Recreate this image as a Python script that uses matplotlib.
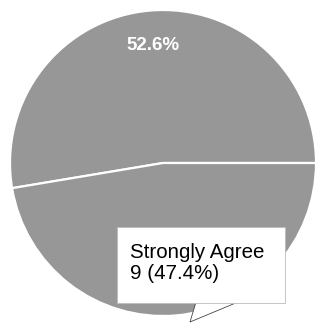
import matplotlib.pyplot as plt
from matplotlib.patches import Rectangle, Polygon

plt.rcParams['font.family'] = ['Liberation Sans', 'DejaVu Sans']

# survey responses
categories = ['Agree', 'Strongly Agree']
counts = [10, 9]

total = sum(counts)
tip_index = 1
tip_label = f"{categories[tip_index]}\n{counts[tip_index]} ({counts[tip_index] / total * 100:.1f}%)"

W, H = 321, 325
fig = plt.figure(figsize=(W / 100, H / 100), dpi=100)
ax = fig.add_axes([0, 0, 1, 1])

grey = '#979797'


def show_pct(pct):
    # only the bigger slice shows its label, the other one sits under the tooltip
    return f"{pct:.1f}%" if pct > 50 else ''


wedges, texts, autotexts = ax.pie(
    counts,
    colors=[grey, grey],
    startangle=0,
    counterclock=True,
    center=(163, H - 163),
    radius=153,
    autopct=show_pct,
    pctdistance=0.77,
    wedgeprops=dict(edgecolor='white', linewidth=1.6),
)
for t in autotexts:
    t.set_color('white')
    t.set_fontsize(13.5)
    t.set_fontweight('bold')

# tooltip box with a small tail
ax.add_patch(Polygon([(196, H - 302), (238, H - 302), (190, H - 322)],
                     closed=True, facecolor='white', edgecolor='#444444',
                     linewidth=0.6, zorder=4))
ax.add_patch(Rectangle((117, H - 303), 168, 76, facecolor='white',
                       edgecolor='#bbbbbb', linewidth=0.6, zorder=5))
ax.text(130, H - 263, tip_label, fontsize=14.8, color='black',
        va='center', ha='left', linespacing=1.15, zorder=6)

ax.set_xlim(0, W)
ax.set_ylim(0, H)
ax.set_aspect('auto')
ax.set_axis_off()

fig.savefig('out.png', dpi=100)
